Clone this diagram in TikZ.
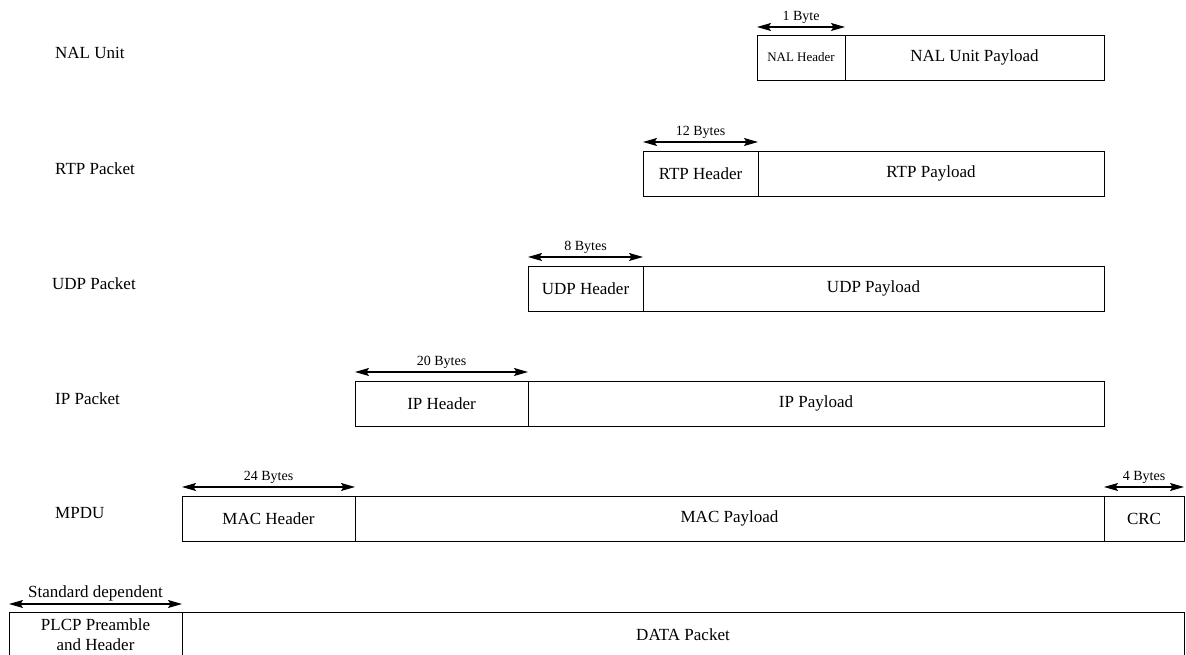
\documentclass[tikz,border=0pt]{standalone}
\usepackage{fontspec}
\setmainfont{Liberation Serif}
\usetikzlibrary{arrows.meta,calc}
\begin{document}
\begin{tikzpicture}[x=1pt,y=1pt,
  cell/.style={draw, line width=0.9pt, minimum height=45pt, inner sep=0pt, outer sep=0pt,
               font=\fontsize{17}{20}\selectfont, align=center},
  rowname/.style={anchor=west, inner sep=0pt, font=\fontsize{17}{20}\selectfont},
  tip/.tip={Stealth[length=14pt,width=8pt,inset=2.5pt]},
  dim/.style={line width=1.1pt, tip-tip},
  dimlabel/.style={above, inner sep=2.5pt, font=\fontsize{14}{16}\selectfont},
  biglabel/.style={above, inner sep=2.5pt, font=\fontsize{17}{20}\selectfont}]
\useasboundingbox (0,0) rectangle (1186,655);

% NAL unit
\node[rowname] (nalname) at (55,602.5) {NAL Unit};
\node[cell, minimum width=88pt, font=\fontsize{13}{15}\selectfont] (nalh) at (801,597.5) {NAL Header};
\node[cell, minimum width=259pt] (nalp) at (974.5,597.5) {NAL Unit Payload};
\draw[dim] ($(nalh.north west)+(0,8)$) -- ($(nalh.north east)+(0,8)$) node[midway, dimlabel] {1 Byte};

% RTP packet
\node[rowname] (rtpname) at (55,486.5) {RTP Packet};
\node[cell, minimum width=115pt] (rtph) at (700.5,481.5) {RTP Header};
\node[cell, minimum width=346pt] (rtpp) at (931,481.5) {RTP Payload};
\draw[dim] ($(rtph.north west)+(0,9)$) -- ($(rtph.north east)+(0,9)$) node[midway, dimlabel] {12 Bytes};

% UDP packet
\node[rowname] (udpname) at (52,371.5) {UDP Packet};
\node[cell, minimum width=115pt] (udph) at (585.5,366.5) {UDP Header};
\node[cell, minimum width=461pt] (udpp) at (873.5,366.5) {UDP Payload};
\draw[dim] ($(udph.north west)+(0,9)$) -- ($(udph.north east)+(0,9)$) node[midway, dimlabel] {8 Bytes};

% IP packet
\node[rowname] (ipname) at (55,256.5) {IP Packet};
\node[cell, minimum width=173pt] (iph) at (441.5,251.5) {IP Header};
\node[cell, minimum width=576pt] (ipp) at (816,251.5) {IP Payload};
\draw[dim] ($(iph.north west)+(0,9)$) -- ($(iph.north east)+(0,9)$) node[midway, dimlabel] {20 Bytes};

% MAC protocol data unit
\node[rowname] (mpduname) at (55,141.5) {MPDU};
\node[cell, minimum width=173pt] (mach) at (268.5,136.5) {MAC Header};
\node[cell, minimum width=749pt] (macp) at (729.5,136.5) {MAC Payload};
\node[cell, minimum width=80pt] (crc) at (1144,136.5) {CRC};
\draw[dim] ($(mach.north west)+(0,9)$) -- ($(mach.north east)+(0,9)$) node[midway, dimlabel] {24 Bytes};
\draw[dim] ($(crc.north west)+(0,9)$) -- ($(crc.north east)+(0,9)$) node[midway, dimlabel] {4 Bytes};

% physical layer frame
\node[cell, minimum width=173pt] (plcp) at (95.5,20.5) {PLCP Preamble\\and Header};
\node[cell, minimum width=1002pt] (data) at (683,20.5) {DATA Packet};
\draw[dim] ($(plcp.north west)+(0,8)$) -- ($(plcp.north east)+(0,8)$) node[midway, biglabel] {Standard dependent};
\end{tikzpicture}
\end{document}
